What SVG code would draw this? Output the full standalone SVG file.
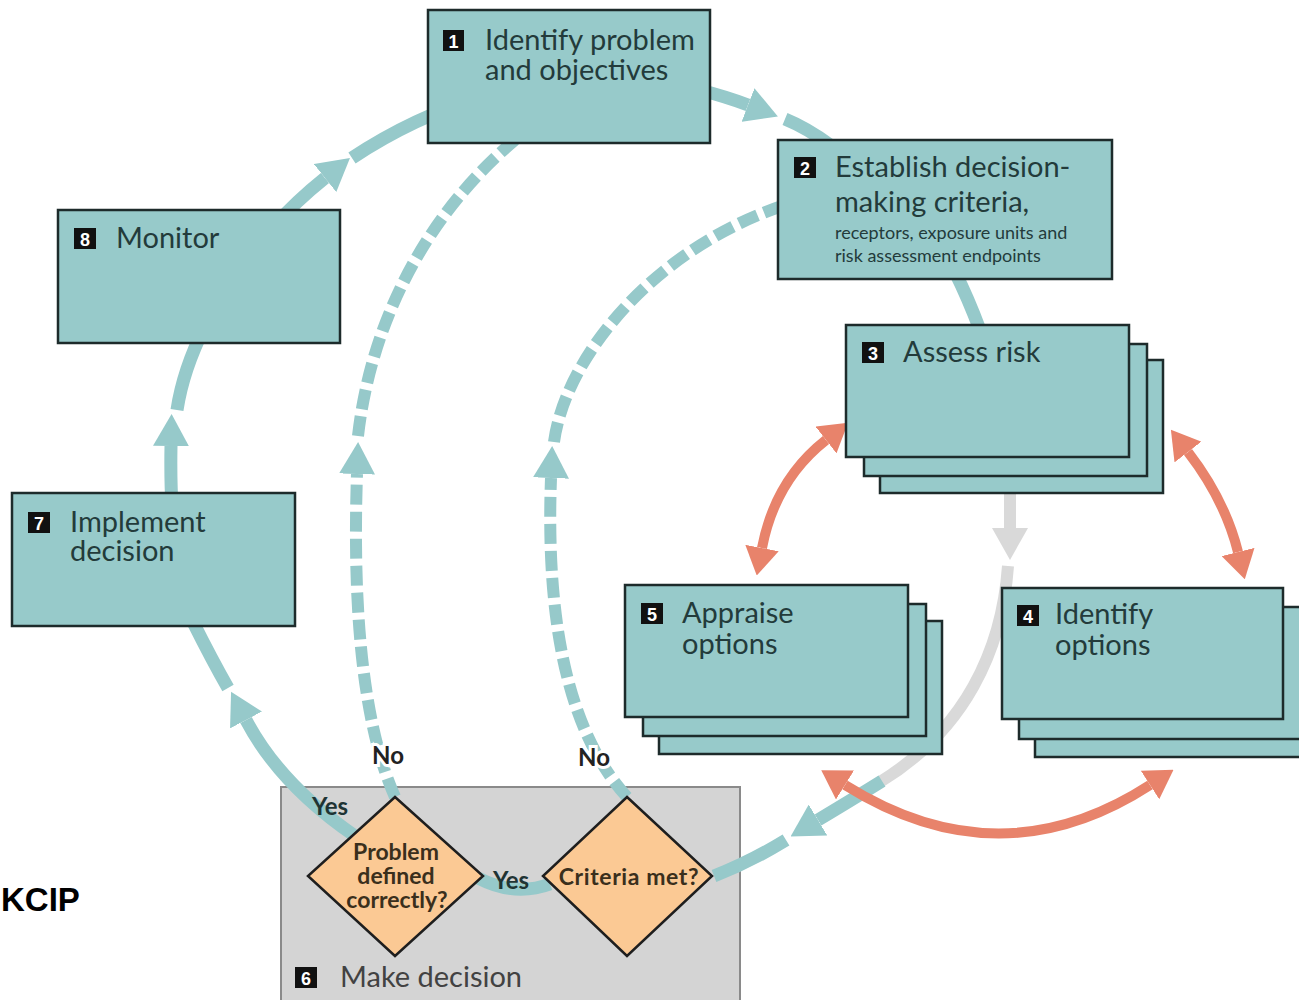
<svg xmlns="http://www.w3.org/2000/svg" width="1299" height="1000" viewBox="0 0 1299 1000">
<defs>
<style>
.box{fill:#97caca;stroke:#1d2b2b;stroke-width:2.5}
.lbl{font-family:Lato,"Open Sans","Liberation Sans",sans-serif;font-size:29px;fill:#233b3b}
.small{font-family:Lato,"Open Sans","Liberation Sans",sans-serif;font-size:18px;fill:#233b3b}
.badge{fill:#111}
.num{font-family:"Liberation Sans",Arial,sans-serif;font-weight:bold;font-size:18px;fill:#fff;text-anchor:middle}
.teal{fill:none;stroke:#96c9ca;stroke-width:13}
.dash{fill:none;stroke:#96c9ca;stroke-width:12;stroke-dasharray:20 7}
.grayl{fill:none;stroke:#d9d9d9;stroke-width:12}
.sal{fill:none;stroke:#e8836b;stroke-width:10}
.dia{fill:#fbc994;stroke:#1e1e1e;stroke-width:2.5}
.dtxt{font-family:Lato,"Open Sans","Liberation Sans",sans-serif;font-weight:bold;font-size:23px;fill:#3a2f1c;text-anchor:middle}
.yn{font-family:Lato,"Open Sans","Liberation Sans",sans-serif;font-weight:bold;font-size:24px;text-anchor:middle}
</style>
<marker id="tealHead" markerUnits="userSpaceOnUse" viewBox="0 0 32 36" markerWidth="32" markerHeight="36" refX="0" refY="18" orient="auto"><path d="M0,0 L32,18 L0,36 z" fill="#96c9ca"/></marker>
<marker id="grayHead" markerUnits="userSpaceOnUse" viewBox="0 0 32 36" markerWidth="32" markerHeight="36" refX="0" refY="18" orient="auto"><path d="M0,0 L32,18 L0,36 z" fill="#d9d9d9"/></marker>
<marker id="salHead" markerUnits="userSpaceOnUse" viewBox="0 0 28 34" markerWidth="28" markerHeight="34" refX="0" refY="17" orient="auto-start-reverse"><path d="M0,0 L28,17 L0,34 z" fill="#e8836b"/></marker>
</defs>
<rect width="1299" height="1000" fill="#fff"/>

<g id="n6">
<rect x="281" y="787" width="459" height="225" fill="#d4d4d4" stroke="#8a8a8a" stroke-width="2"/>
<rect class="badge" x="295" y="967" width="22" height="21"/>
<text class="num" x="306" y="985">6</text>
<text class="lbl" x="340" y="987" style="fill:#424242">Make decision</text>
</g>

<g id="connectors">
<path class="teal" d="M272,228 A480,410 0 0 1 325,178" marker-end="url(#tealHead)"/>
<path class="teal" d="M352,158 A480,410 0 0 1 486,95"/>
<path class="teal" d="M700,90 Q727,97 748,105" marker-end="url(#tealHead)"/>
<path class="teal" d="M785,119 Q807,128 830,145"/>
<path class="teal" d="M955,272 Q968,298 980,330"/>
<path class="teal" d="M175,540 Q170,500 171,446" marker-end="url(#tealHead)"/>
<path class="teal" d="M177,410 Q183,370 205,326"/>
<path class="teal" d="M355,836 C320,812 275,775 246,720" marker-end="url(#tealHead)"/>
<path class="teal" d="M228,688 Q212,660 193,622"/>
<path class="teal" d="M478,878 Q515,897 550,884"/>
<path class="grayl" d="M1010,493 L1010,528" marker-end="url(#grayHead)"/>
<path class="grayl" d="M1008,566 C1002,650 965,730 880,782"/>
<path class="teal" d="M882,781 C858,796 838,808 818,820" marker-end="url(#tealHead)"/>
<path class="teal" d="M786,840 Q750,862 714,876"/>
<path class="dash" d="M395,797 C365,730 352,620 357,474" marker-end="url(#tealHead)"/>
<path class="dash" d="M358,436 C370,330 420,220 515,140"/>
<path class="dash" d="M627,797 C575,740 545,640 551,478" marker-end="url(#tealHead)"/>
<path class="dash" d="M554,442 C565,360 650,250 785,205"/>
<path class="sal" d="M826,440 Q775,480 762,548" marker-start="url(#salHead)" marker-end="url(#salHead)"/>
<path class="sal" d="M1188,452 Q1225,500 1238,552" marker-start="url(#salHead)" marker-end="url(#salHead)"/>
<path class="sal" d="M845,785 Q1000,882 1150,785" marker-start="url(#salHead)" marker-end="url(#salHead)"/>
<text class="yn" x="388" y="764" fill="#222" stroke="#fff" stroke-width="6" paint-order="stroke">No</text>
<text class="yn" x="594" y="766" fill="#222" stroke="#fff" stroke-width="6" paint-order="stroke">No</text>
<text class="yn" x="330" y="815" fill="#1f3434">Yes</text>
<text class="yn" x="511" y="889" fill="#1f3434">Yes</text>
</g>

<g id="n1">
<rect class="box" x="428" y="10" width="282" height="133"/>
<rect class="badge" x="443" y="30" width="21" height="21"/>
<text class="num" x="453.5" y="48">1</text>
<text class="lbl" x="485" y="50">Identify problem<tspan x="485" dy="30">and objectives</tspan></text>
</g>

<g id="n2">
<rect class="box" x="778" y="140" width="334" height="139"/>
<rect class="badge" x="794" y="157" width="22" height="21"/>
<text class="num" x="805" y="175">2</text>
<text class="lbl" x="835" y="177">Establish decision-<tspan x="835" dy="35">making criteria,</tspan></text>
<text class="small" x="835" y="239">receptors, exposure units and<tspan x="835" dy="23">risk assessment endpoints</tspan></text>
</g>

<g id="n3">
<rect class="box" x="880" y="360" width="283" height="133"/>
<rect class="box" x="864" y="344" width="283" height="132"/>
<rect class="box" x="846" y="325" width="283" height="132"/>
<rect class="badge" x="862" y="342" width="22" height="21"/>
<text class="num" x="873" y="360">3</text>
<text class="lbl" x="903" y="362">Assess risk</text>
</g>

<g id="n5">
<rect class="box" x="659" y="621" width="283" height="133"/>
<rect class="box" x="643" y="604" width="283" height="132"/>
<rect class="box" x="625" y="585" width="283" height="132"/>
<rect class="badge" x="641" y="603" width="22" height="21"/>
<text class="num" x="652" y="621">5</text>
<text class="lbl" x="682" y="623">Appraise<tspan x="682" dy="31">options</tspan></text>
</g>

<g id="n4">
<rect class="box" x="1035" y="624" width="283" height="133"/>
<rect class="box" x="1019" y="607" width="283" height="132"/>
<rect class="box" x="1002" y="588" width="281" height="131"/>
<rect class="badge" x="1017" y="605" width="22" height="21"/>
<text class="num" x="1028" y="623">4</text>
<text class="lbl" x="1055" y="624">Identify<tspan x="1055" dy="31">options</tspan></text>
</g>

<g id="n8">
<rect class="box" x="58" y="210" width="282" height="133"/>
<rect class="badge" x="74" y="228" width="22" height="21"/>
<text class="num" x="85" y="246">8</text>
<text class="lbl" x="116" y="248">Monitor</text>
</g>

<g id="n7">
<rect class="box" x="12" y="493" width="283" height="133"/>
<rect class="badge" x="28" y="512" width="22" height="21"/>
<text class="num" x="39" y="530">7</text>
<text class="lbl" x="70" y="532">Implement<tspan x="70" dy="29">decision</tspan></text>
</g>

<g id="d1">
<polygon class="dia" points="395,797 483,876 395,956 308,876"/>
<text class="dtxt" x="396" y="860">Problem<tspan x="396" dy="24">defined</tspan><tspan x="397" dy="24">correctly?</tspan></text>
</g>

<g id="d2">
<polygon class="dia" points="627,797 712,876 627,956 543,876"/>
<text class="dtxt" x="629" y="885" letter-spacing="0.6">Criteria met?</text>
</g>

<text x="1" y="911" font-family="'Liberation Sans',Arial,sans-serif" font-weight="bold" font-size="33" fill="#000">KCIP</text>
</svg>
